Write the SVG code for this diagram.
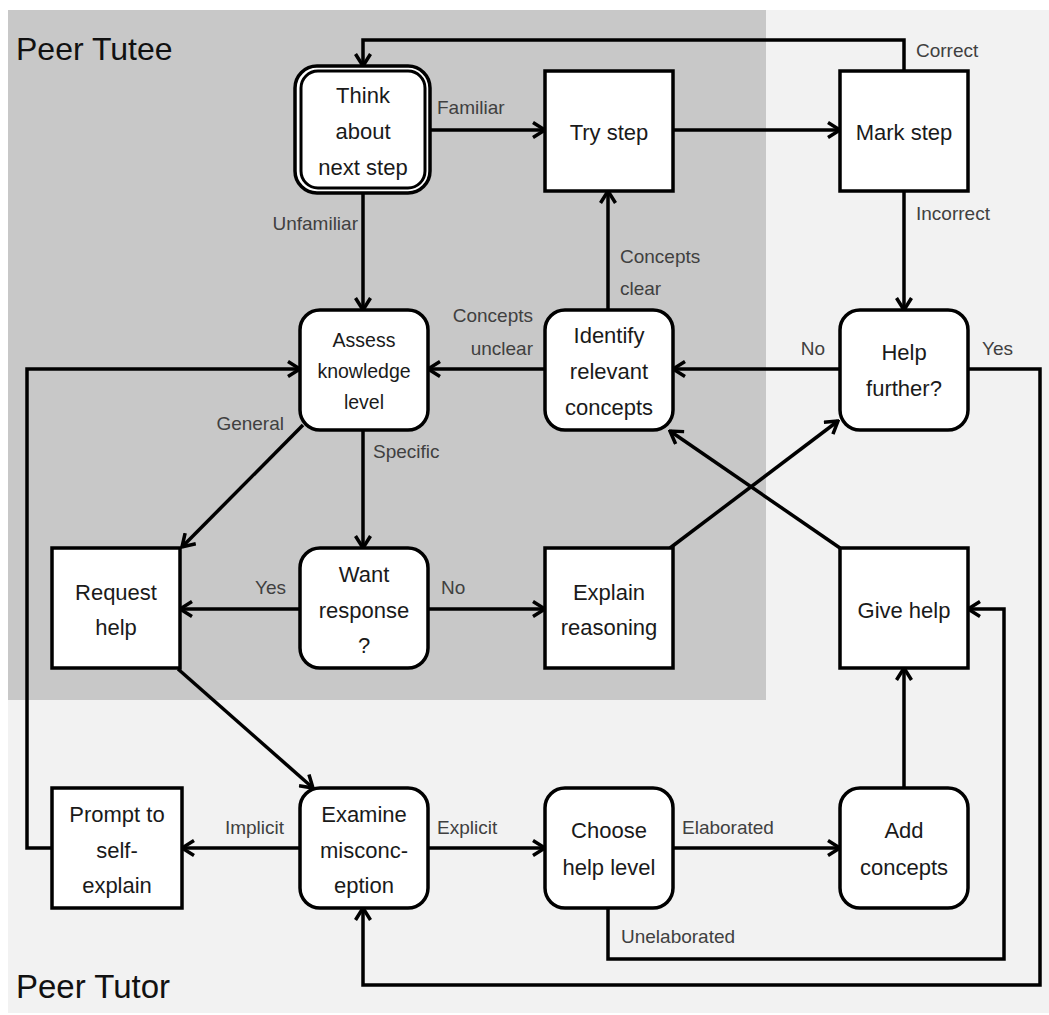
<svg xmlns="http://www.w3.org/2000/svg" width="1049" height="1015" viewBox="0 0 1049 1015">
<defs>
<marker id="arr" viewBox="0 0 16 18" refX="14" refY="9" markerWidth="16" markerHeight="18" markerUnits="userSpaceOnUse" orient="auto">
<path d="M2,1.5 L14,9 L2,16.5" fill="none" stroke="#000" stroke-width="3.5" stroke-linejoin="miter"/>
</marker>
<style>
.box{fill:#fff;stroke:#000;stroke-width:3.5}
.nt{font-family:"Liberation Sans",Arial,sans-serif;font-size:22px;fill:#1a1a1a;text-anchor:middle}
.ntS{font-size:19.5px}
.lb{font-family:"Liberation Sans",Arial,sans-serif;font-size:19px;fill:#404040}
.end{text-anchor:end}
.ttl{font-family:"Liberation Sans",Arial,sans-serif;font-size:32px;fill:#111}
.cn{fill:none;stroke:#000;stroke-width:3.5;marker-end:url(#arr)}
</style>
</defs>
<rect x="0" y="0" width="1049" height="1015" fill="#fff"/>
<rect x="8" y="10" width="1041" height="1003" fill="#f2f2f2"/>
<rect x="8" y="10" width="758" height="690" fill="#c8c8c8"/>
<text class="ttl" x="16" y="60">Peer Tutee</text>
<text class="ttl" x="16" y="998" style="font-size:33px">Peer Tutor</text>

<g id="connectors">
<path class="cn" d="M904,71 V40 H363 V66"/>
<path class="cn" d="M430,130 H545"/>
<path class="cn" d="M673,130 H840"/>
<path class="cn" d="M363,193 V310"/>
<path class="cn" d="M904,191 V310"/>
<path class="cn" d="M840,369 H673"/>
<path class="cn" d="M545,369 H428"/>
<path class="cn" d="M608,310 V191"/>
<path class="cn" d="M968,369 H1040 V985 H363 V908"/>
<path class="cn" d="M608,908 V959 H1004 V609 H968"/>
<path class="cn" d="M673,848 H840"/>
<path class="cn" d="M904,788 V668"/>
<path class="cn" d="M428,848 H545"/>
<path class="cn" d="M300,848 H182"/>
<path class="cn" d="M52,848 H27 V369 H300"/>
<path class="cn" d="M300,609 H180"/>
<path class="cn" d="M428,609 H545"/>
<path class="cn" d="M363,430 V548"/>
<path class="cn" d="M303,425 L182,547"/>
<path class="cn" d="M178,669 L313,788"/>
<path class="cn" d="M670,548 L838,421"/>
<path class="cn" d="M840,548 L670,431"/>
</g>

<g id="labels">
<text class="lb" x="916" y="57">Correct</text>
<text class="lb" x="437" y="114">Familiar</text>
<text class="lb end" x="358" y="230">Unfamiliar</text>
<text class="lb" x="916" y="220">Incorrect</text>
<text class="lb" x="620" y="263">Concepts</text>
<text class="lb" x="620" y="295">clear</text>
<text class="lb end" x="533" y="322">Concepts</text>
<text class="lb end" x="533" y="355">unclear</text>
<text class="lb end" x="825" y="355">No</text>
<text class="lb" x="982" y="355">Yes</text>
<text class="lb end" x="284" y="430">General</text>
<text class="lb" x="373" y="458">Specific</text>
<text class="lb end" x="286" y="594">Yes</text>
<text class="lb" x="441" y="594">No</text>
<text class="lb end" x="284" y="834">Implicit</text>
<text class="lb" x="437" y="834">Explicit</text>
<text class="lb" x="682" y="834">Elaborated</text>
<text class="lb" x="621" y="943">Unelaborated</text>
</g>

<g id="think">
<rect class="box" x="295" y="66" width="135" height="127" rx="22"/>
<rect class="box" x="301" y="71" width="124" height="117" rx="17" style="stroke-width:3"/>
<text class="nt" x="363" y="103">Think</text>
<text class="nt" x="363" y="139">about</text>
<text class="nt" x="363" y="175">next step</text>
</g>
<g id="try-step">
<rect class="box" x="545" y="71" width="128" height="120"/>
<text class="nt" x="609" y="140">Try step</text>
</g>
<g id="mark-step">
<rect class="box" x="840" y="71" width="128" height="120"/>
<text class="nt" x="904" y="140">Mark step</text>
</g>
<g id="assess">
<rect class="box" x="300" y="310" width="128" height="120" rx="20"/>
<text class="nt ntS" x="364" y="347">Assess</text>
<text class="nt ntS" x="364" y="378">knowledge</text>
<text class="nt ntS" x="364" y="409">level</text>
</g>
<g id="identify">
<rect class="box" x="545" y="310" width="128" height="120" rx="20"/>
<text class="nt" x="609" y="343">Identify</text>
<text class="nt" x="609" y="379">relevant</text>
<text class="nt" x="609" y="415">concepts</text>
</g>
<g id="help-further">
<rect class="box" x="840" y="310" width="128" height="120" rx="20"/>
<text class="nt" x="904" y="360">Help</text>
<text class="nt" x="904" y="396">further?</text>
</g>
<g id="request-help">
<rect class="box" x="52" y="548" width="128" height="120"/>
<text class="nt" x="116" y="600">Request</text>
<text class="nt" x="116" y="635">help</text>
</g>
<g id="want-response">
<rect class="box" x="300" y="548" width="128" height="120" rx="20"/>
<text class="nt" x="364" y="582">Want</text>
<text class="nt" x="364" y="618">response</text>
<text class="nt" x="364" y="653">?</text>
</g>
<g id="explain-reasoning">
<rect class="box" x="545" y="548" width="128" height="120"/>
<text class="nt" x="609" y="600">Explain</text>
<text class="nt" x="609" y="635">reasoning</text>
</g>
<g id="give-help">
<rect class="box" x="840" y="548" width="128" height="120"/>
<text class="nt" x="904" y="618">Give help</text>
</g>
<g id="prompt">
<rect class="box" x="52" y="788" width="130" height="120"/>
<text class="nt" x="117" y="822">Prompt to</text>
<text class="nt" x="117" y="858">self-</text>
<text class="nt" x="117" y="893">explain</text>
</g>
<g id="examine">
<rect class="box" x="300" y="788" width="128" height="120" rx="20"/>
<text class="nt" x="364" y="822">Examine</text>
<text class="nt" x="364" y="858">misconc-</text>
<text class="nt" x="364" y="893">eption</text>
</g>
<g id="choose">
<rect class="box" x="545" y="788" width="128" height="120" rx="20"/>
<text class="nt" x="609" y="838">Choose</text>
<text class="nt" x="609" y="875">help level</text>
</g>
<g id="add-concepts">
<rect class="box" x="840" y="788" width="128" height="120" rx="20"/>
<text class="nt" x="904" y="838">Add</text>
<text class="nt" x="904" y="875">concepts</text>
</g>
</svg>
